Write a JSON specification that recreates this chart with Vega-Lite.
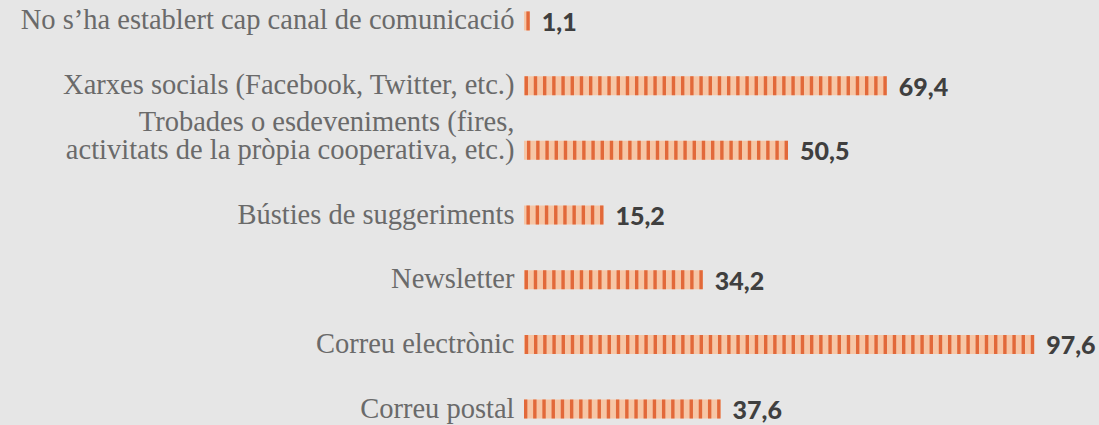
{
  "$schema": "https://vega.github.io/schema/vega-lite/v6.json",
  "autosize": "none",
  "padding": {"left": 524, "top": 8, "right": 0, "bottom": 3},
  "width": 575,
  "height": 414,
  "background": "#e6e6e6",
  "config": {"view": {"stroke": null}},
  "data": {
    "values": [
      {"canal": "No s’ha establert cap canal de comunicació", "pct": 1.1, "txt": "1,1"},
      {"canal": "Xarxes socials (Facebook, Twitter, etc.)", "pct": 69.4, "txt": "69,4"},
      {"canal": "Trobades o esdeveniments (fires,\nactivitats de la pròpia cooperativa, etc.)", "pct": 50.5, "txt": "50,5"},
      {"canal": "Bústies de suggeriments", "pct": 15.2, "txt": "15,2"},
      {"canal": "Newsletter", "pct": 34.2, "txt": "34,2"},
      {"canal": "Correu electrònic", "pct": 97.6, "txt": "97,6"},
      {"canal": "Correu postal", "pct": 37.6, "txt": "37,6"}
    ]
  },
  "encoding": {
    "y": {
      "field": "canal", "type": "nominal", "sort": null,
      "scale": {"type": "point", "padding": 0.2},
      "axis": {
        "title": null, "domain": false, "ticks": false, "labelPadding": 10,
        "labelExpr": "split(datum.value, '\\n')",
        "labelFont": "Liberation Serif", "labelFontSize": 28.5, "labelColor": "#6a6a6a",
        "labelBaseline": "alphabetic",
        "labelOffset": {"condition": {"test": "indexof(datum.value, '\\n') >= 0", "value": -20}, "value": 8},
        "labelLineHeight": 28, "labelLimit": 600
      }
    },
    "x": {"field": "pct", "type": "quantitative", "scale": {"domain": [0, 110], "range": [0, 575]}, "axis": null}
  },
  "layer": [
    {
      "mark": {"type": "rule", "stroke": "#f6c6a6", "strokeWidth": 19},
      "encoding": {"x2": {"datum": 0}}
    },
    {
      "mark": {"type": "rule", "stroke": "#e2693a", "strokeWidth": 19, "strokeDash": [3.4, 5.8]},
      "encoding": {"x2": {"datum": 0}}
    },
    {
      "mark": {"type": "text", "align": "left", "baseline": "middle", "dx": 12, "dy": 2, "font": "Lato", "fontSize": 25, "fontWeight": 900, "color": "#3f3f3f"},
      "encoding": {"text": {"field": "txt", "type": "nominal"}}
    }
  ]
}
